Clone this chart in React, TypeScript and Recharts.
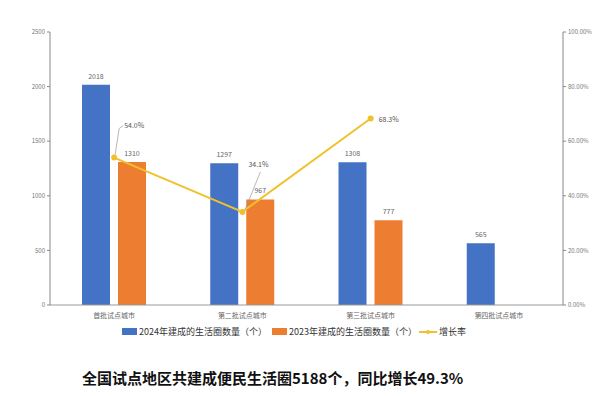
import React from 'react';
import { ComposedChart, Bar, Line, XAxis, YAxis, LabelList } from 'recharts';

const categories = ['首批试点城市', '第二批试点城市', '第三批试点城市', '第四批试点城市'];
const built2024 = [2018, 1297, 1308, 565];
const built2023: (number | null)[] = [1310, 967, 777, null];
const growthRate: (number | null)[] = [54.0, 34.1, 68.3, null];

const leftTicks = [0, 500, 1000, 1500, 2000, 2500];
const rightTicks = [0, 20, 40, 60, 80, 100];

const BLUE = '#4472C4';
const ORANGE = '#ED7D31';
const GOLD = '#F0C12C';
const FONT = '"Noto Sans CJK SC", "Noto Sans", sans-serif';

const chartData = categories.map((name, i) => ({
  name,
  y2024: built2024[i],
  y2023: built2023[i],
  rate: growthRate[i],
}));

// growth-rate labels, the first two have little leader lines like the original
const RateLabel = (props: any) => {
  const { x, y, value, index } = props;
  if (value == null) return null;
  const text = `${Number(value).toFixed(1)}%`;
  const style = { fontSize: 7, fill: '#555', fontFamily: FONT };
  if (index === 0) {
    return (
      <g>
        <polyline points={`${x + 1},${y - 3} ${x + 5},${y - 29} ${x + 9},${y - 32}`} fill="none" stroke="#999" strokeWidth={0.7} />
        <text x={x + 10} y={y - 30} {...style}>{text}</text>
      </g>
    );
  }
  if (index === 1) {
    return (
      <g>
        <polyline points={`${x + 3},${y - 3} ${x + 18},${y - 40}`} fill="none" stroke="#999" strokeWidth={0.7} />
        <text x={x + 6} y={y - 45} {...style}>{text}</text>
      </g>
    );
  }
  return <text x={x + 8} y={y + 3} {...style}>{text}</text>;
};

export default function App() {
  return (
    <div style={{ position: 'absolute', left: 0, top: 0, width: 612, height: 396, background: '#fff', fontFamily: FONT }}>
      <ComposedChart
        width={612}
        height={340}
        data={chartData}
        margin={{ top: 32, right: 0, bottom: 15, left: 0 }}
        barSize={28}
        barGap={8}
      >
        <XAxis
          dataKey="name"
          height={20}
          axisLine={{ stroke: '#999' }}
          tickLine={false}
          tick={{ fontSize: 7, fill: '#666', fontFamily: FONT }}
        />
        <YAxis
          yAxisId="left"
          width={50}
          domain={[0, 2500]}
          ticks={leftTicks}
          tickSize={3}
          axisLine={{ stroke: '#888' }}
          tickLine={{ stroke: '#888' }}
          tick={{ fontSize: 6, fill: '#777', fontFamily: FONT }}
        />
        <YAxis
          yAxisId="right"
          orientation="right"
          width={49}
          domain={[0, 100]}
          ticks={rightTicks}
          tickSize={3}
          axisLine={{ stroke: '#888' }}
          tickLine={{ stroke: '#888' }}
          tickFormatter={(v: number) => `${v.toFixed(2)}%`}
          tick={{ fontSize: 6, fill: '#777', fontFamily: FONT }}
        />
        <Bar yAxisId="left" dataKey="y2024" fill={BLUE} isAnimationActive={false}>
          <LabelList dataKey="y2024" position="top" offset={6} style={{ fontSize: 7, fill: '#666', fontFamily: FONT }} />
        </Bar>
        <Bar yAxisId="left" dataKey="y2023" fill={ORANGE} isAnimationActive={false}>
          <LabelList dataKey="y2023" position="top" offset={6} style={{ fontSize: 7, fill: '#666', fontFamily: FONT }} />
        </Bar>
        <Line
          yAxisId="right"
          dataKey="rate"
          stroke={GOLD}
          strokeWidth={2}
          dot={{ r: 2, fill: GOLD, stroke: GOLD }}
          isAnimationActive={false}
        >
          <LabelList dataKey="rate" content={RateLabel} />
        </Line>
      </ComposedChart>

      <div style={{ position: 'absolute', top: 325, left: 122, display: 'flex', alignItems: 'center', fontSize: 9, color: '#333', whiteSpace: 'nowrap' }}>
        <span style={{ width: 15, height: 7, background: BLUE, display: 'inline-block', marginRight: 2 }} />
        <span style={{ marginRight: 5 }}>2024年建成的生活圈数量（个）</span>
        <span style={{ width: 15, height: 7, background: ORANGE, display: 'inline-block', marginRight: 2 }} />
        <span style={{ marginRight: 2 }}>2023年建成的生活圈数量（个）</span>
        <svg width={18} height={8} style={{ marginRight: 2 }}>
          <line x1={0} y1={4} x2={18} y2={4} stroke={GOLD} strokeWidth={2} />
          <circle cx={9} cy={4} r={2} fill={GOLD} />
        </svg>
        <span>增长率</span>
      </div>

      <div style={{ position: 'absolute', top: 367, left: 82, fontSize: 15, fontWeight: 'bold', color: '#111', whiteSpace: 'nowrap' }}>
        全国试点地区共建成便民生活圈5188个，同比增长49.3%
      </div>
    </div>
  );
}
